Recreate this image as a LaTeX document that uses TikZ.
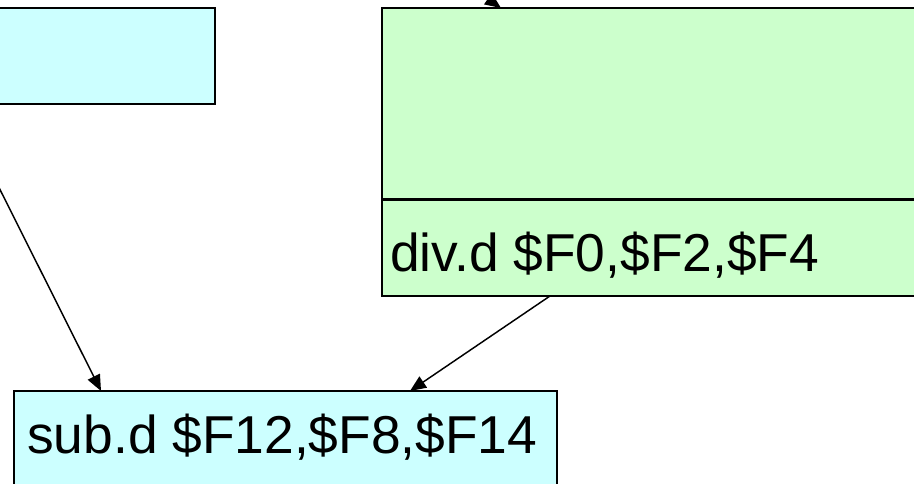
\documentclass[tikz,border=0pt]{standalone}
\usepackage{fontspec}
\setmainfont{Liberation Sans}
\usetikzlibrary{arrows.meta}
\definecolor{regcyan}{HTML}{CCFFFF}
\definecolor{reggreen}{HTML}{CCFFCC}
\begin{document}
\begin{tikzpicture}[x=0.75pt,y=-0.75pt,
  instbox/.style={draw=black,line width=1.6pt},
  instr/.style={anchor=base west,inner sep=0pt,font=\fontsize{40pt}{40pt}\selectfont},
  dep/.style={draw=black,line width=1.1pt,-{Triangle[length=12pt,width=10pt]}}]
\useasboundingbox (0,0) rectangle (914,484);
\clip (0,0) rectangle (914,484);
% instruction blocks
\path[instbox,fill=regcyan] (-40,8) rectangle (215,104);
\path[instbox,fill=reggreen] (382,8) rectangle (960,296);
\draw[line width=1.6pt] (382,199.5) -- (960,199.5);
\path[instbox,fill=regcyan] (14,391) rectangle (557,520);
\node[instr] (div) at (390,272) {div.d \$F0,\$F2,\$F4};
\node[instr] (sub) at (27,454) {sub.d \$F12,\$F8,\$F14};
% anchor points on the blocks
\coordinate (greentop) at (501,8);
\coordinate (greenbot) at (550,296);
\coordinate (subtop1) at (101,391);
\coordinate (subtop2) at (410,391);
\coordinate (fromabove) at (390,-70);
\coordinate (fromleft) at (-60,70);
% dependence arrows
\draw[dep] (fromabove) -- (greentop);
\draw[dep] (fromleft) -- (subtop1);
\draw[dep] (greenbot) -- (subtop2);
\end{tikzpicture}
\end{document}
